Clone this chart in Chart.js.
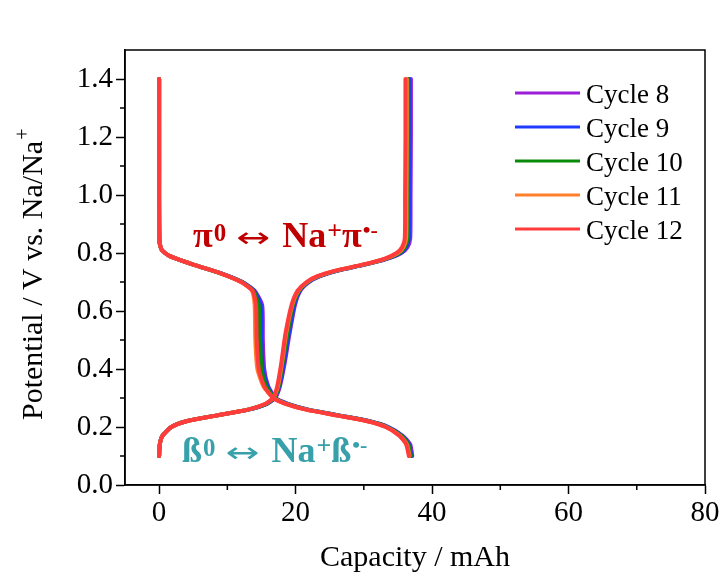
<!DOCTYPE html>
<html>
<head>
<meta charset="utf-8">
<script src="https://cdn.jsdelivr.net/npm/chart.js@4/dist/chart.umd.min.js"></script>
<style>
  html, body { margin: 0; padding: 0; background: #fff; }
  #wrap { width: 723px; height: 574px; position: relative; }
</style>
</head>
<body>
<div id="wrap"><canvas id="gcd-chart"></canvas></div>
<script>
/* ── Data ─────────────────────────────────────────────────────────── */
var CYCLES = ["Cycle 8", "Cycle 9", "Cycle 10", "Cycle 11", "Cycle 12"];

// discharge branch: potential (V) and capacity (mAh) per cycle
var DIS_V = [1.40, 1.10, 0.84, 0.81, 0.79, 0.76, 0.73, 0.70, 0.67, 0.62, 0.50, 0.40, 0.34, 0.30, 0.28, 0.26, 0.24, 0.22, 0.20, 0.17, 0.14, 0.10];
var DIS_Q8  = [0, 0, 0.05, 0.4, 1.5, 5.0, 9.1, 12.2, 14.0, 15.1, 15.2, 15.4, 16.0, 17.1, 18.9, 21.9, 26.4, 30.9, 33.6, 35.7, 36.8, 37.1];
var DIS_Q9  = [0, 0, 0.05, 0.4, 1.5, 5.0, 9.1, 12.2, 13.9, 14.9, 15.0, 15.2, 15.9, 17.0, 18.8, 21.8, 26.3, 30.8, 33.5, 35.6, 36.6, 37.0];
var DIS_Q10 = [0, 0, 0.05, 0.4, 1.5, 5.0, 9.0, 12.1, 13.8, 14.6, 14.8, 15.0, 15.7, 16.9, 18.7, 21.7, 26.2, 30.7, 33.4, 35.5, 36.5, 36.9];
var DIS_Q11 = [0, 0, 0.05, 0.4, 1.5, 5.0, 9.0, 12.0, 13.6, 14.0, 14.1, 14.4, 15.3, 16.8, 18.6, 21.6, 26.1, 30.6, 33.3, 35.3, 36.3, 36.7];
var DIS_Q12 = [0, 0, 0.05, 0.4, 1.5, 5.0, 9.0, 12.0, 13.7, 14.2, 14.3, 14.6, 15.4, 16.7, 18.5, 21.5, 26.0, 30.5, 33.2, 35.2, 36.2, 36.6];

// charge branch
var CHG_V = [0.10, 0.14, 0.17, 0.20, 0.22, 0.24, 0.26, 0.28, 0.30, 0.34, 0.42, 0.52, 0.62, 0.67, 0.70, 0.72, 0.74, 0.76, 0.78, 0.80, 0.82, 0.85, 1.00, 1.20, 1.40];
var CHG_Q8  = [0, 0.1, 0.5, 1.8, 4.0, 8.5, 13.1, 15.8, 17.0, 17.7, 18.4, 19.1, 19.9, 20.7, 22.0, 23.6, 26.4, 30.2, 33.4, 35.5, 36.4, 36.8, 36.85, 36.9, 36.9];
var CHG_Q9  = [0, 0.1, 0.5, 1.8, 4.0, 8.5, 13.1, 15.8, 16.9, 17.6, 18.3, 19.0, 19.8, 20.6, 21.9, 23.5, 26.3, 30.1, 33.3, 35.4, 36.2, 36.6, 36.65, 36.7, 36.7];
var CHG_Q10 = [0, 0.1, 0.5, 1.8, 4.0, 8.5, 13.0, 15.7, 16.8, 17.5, 18.1, 18.8, 19.6, 20.5, 21.8, 23.4, 26.2, 30.0, 33.2, 35.2, 36.0, 36.4, 36.45, 36.5, 36.5];
var CHG_Q11 = [0, 0.1, 0.5, 1.8, 4.0, 8.5, 13.0, 15.6, 16.7, 17.4, 18.0, 18.6, 19.5, 20.4, 21.7, 23.3, 26.1, 29.9, 33.1, 35.0, 35.8, 36.2, 36.25, 36.3, 36.3];
var CHG_Q12 = [0, 0.1, 0.5, 1.8, 4.0, 8.5, 13.0, 15.6, 16.7, 17.3, 17.9, 18.5, 19.4, 20.3, 21.6, 23.2, 26.0, 29.8, 33.0, 34.8, 35.6, 36.0, 36.05, 36.1, 36.1];

var X_TICKS = [0, 20, 40, 60, 80];
var Y_TICKS = [0.0, 0.2, 0.4, 0.6, 0.8, 1.0, 1.2, 1.4];

(function () {
  "use strict";

  var COLORS = ["#9b1ed8", "#1e3cff", "#0a8a0a", "#ff7f2a", "#ff3b3b"];
  var SERIF = "'Liberation Serif', 'Times New Roman', serif";

  /* ── Helpers ───────────────────────────────────────────────────── */
  function pts(qs, vs) {
    return qs.map(function (q, i) { return { x: q, y: vs[i] }; });
  }

  function cycleData(dq, cq) {
    // discharge, a gap, then charge
    return pts(dq, DIS_V).concat([{ x: dq[dq.length - 1], y: null }], pts(cq, CHG_V));
  }

  // draws a row of text pieces; r.w stretches a piece to a given width
  function drawRuns(ctx, x, y, runs) {
    runs.forEach(function (r) {
      ctx.font = r.font;
      ctx.fillStyle = r.color;
      var tw = ctx.measureText(r.text).width;
      var sx = r.w ? r.w / tw : 1;
      ctx.save();
      ctx.translate(x, y - (r.rise || 0));
      ctx.scale(sx, 1);
      ctx.fillText(r.text, 0, 0);
      ctx.restore();
      x += tw * sx + (r.gap || 0);
    });
  }

  function reaction(sym, color) {
    var big = "bold 36px " + SERIF;
    return [
      { text: sym, font: big, color: color, gap: 1 },
      { text: "0", font: "bold 25px " + SERIF, color: color, rise: 6, gap: 10 },
      { text: "\u2194", font: "28px 'DejaVu Sans'", color: color, w: 34, gap: 12 },
      { text: "Na", font: big, color: color, gap: 1 },
      { text: "+", font: "bold 26px " + SERIF, color: color, rise: 8 },
      { text: sym, font: big, color: color, gap: 1 },
      { text: "\u2022-", font: "bold 22px " + SERIF, color: color, rise: 10 }
    ];
  }

  var discharge = [DIS_Q8, DIS_Q9, DIS_Q10, DIS_Q11, DIS_Q12];
  var charge = [CHG_Q8, CHG_Q9, CHG_Q10, CHG_Q11, CHG_Q12];

  var datasets = CYCLES.map(function (name, i) {
    return {
      label: name,
      data: cycleData(discharge[i], charge[i]),
      borderColor: COLORS[i],
      backgroundColor: COLORS[i],
      borderWidth: 4,
      pointRadius: 0,
      tension: 0.2,
      spanGaps: false,
      borderJoinStyle: "round",
      borderCapStyle: "round",
      order: CYCLES.length - 1 - i   // cycle 12 ends up on top
    };
  });

  /* ── Decorations: frame, minor ticks, legend, labels ───────────── */
  var decor = {
    id: "decor",
    afterDraw: function (chart) {
      var ctx = chart.ctx;
      var a = chart.chartArea;
      var xs = chart.scales.x, ys = chart.scales.y;

      ctx.save();
      ctx.strokeStyle = "#000";
      ctx.lineWidth = 1.5;
      ctx.strokeRect(a.left, a.top, a.right - a.left, a.bottom - a.top);

      // minor ticks
      ctx.beginPath();
      [10, 30, 50, 70].forEach(function (v) {
        var px = xs.getPixelForValue(v);
        ctx.moveTo(px, a.bottom);
        ctx.lineTo(px, a.bottom + 5);
      });
      [0.1, 0.3, 0.5, 0.7, 0.9, 1.1, 1.3].forEach(function (v) {
        var py = ys.getPixelForValue(v);
        ctx.moveTo(a.left, py);
        ctx.lineTo(a.left - 5, py);
      });
      ctx.stroke();

      // legend
      ctx.textAlign = "left";
      ctx.textBaseline = "alphabetic";
      CYCLES.forEach(function (name, i) {
        var ly = 93 + i * 34;
        ctx.strokeStyle = COLORS[i];
        ctx.lineWidth = 3;
        ctx.beginPath();
        ctx.moveTo(515, ly);
        ctx.lineTo(580, ly);
        ctx.stroke();
        ctx.fillStyle = "#000";
        ctx.font = "27px " + SERIF;
        ctx.fillText(name, 586, ly + 10);
      });

      // reaction labels
      drawRuns(ctx, 193, 247, reaction("\u03c0", "#c00000"));
      drawRuns(ctx, 182, 462, reaction("\u00df", "#37a0aa"));

      // axis titles
      ctx.fillStyle = "#000";
      ctx.font = "30px " + SERIF;
      ctx.textAlign = "center";
      ctx.fillText("Capacity / mAh", (a.left + a.right) / 2, 566);

      ctx.translate(42, 420);
      ctx.rotate(-Math.PI / 2);
      ctx.textAlign = "left";
      var main = "Potential / V vs. Na/Na";
      ctx.fillText(main, 0, 0);
      var w = ctx.measureText(main).width;
      ctx.font = "20px " + SERIF;
      ctx.fillText("+", w + 1, -13);
      ctx.restore();
    }
  };

  /* ── Chart ─────────────────────────────────────────────────────── */
  var tickFont = { family: "'Liberation Serif', serif", size: 29 };

  new Chart(document.getElementById("gcd-chart").getContext("2d"), {
    type: "line",
    data: { datasets: datasets },
    options: {
      responsive: true,
      maintainAspectRatio: false,
      animation: false,
      layout: { padding: { left: 0, top: 50, right: 18, bottom: 0 } },
      plugins: {
        legend: { display: false },
        tooltip: { enabled: false }
      },
      scales: {
        x: {
          type: "linear",
          min: -5,
          max: 80,
          afterFit: function (s) { s.height = 89; },
          afterBuildTicks: function (s) {
            s.ticks = X_TICKS.map(function (v) { return { value: v }; });
          },
          ticks: { color: "#000", font: tickFont, padding: 2 },
          grid: { drawOnChartArea: false, tickLength: 9, tickWidth: 1.5, tickColor: "#000" },
          border: { color: "#000", width: 1.5 }
        },
        y: {
          type: "linear",
          min: 0,
          max: 1.5,
          afterFit: function (s) { s.width = 125; },
          afterBuildTicks: function (s) {
            s.ticks = Y_TICKS.map(function (v) { return { value: v }; });
          },
          ticks: {
            color: "#000",
            font: tickFont,
            padding: 3,
            callback: function (v) { return Number(v).toFixed(1); }
          },
          grid: { drawOnChartArea: false, tickLength: 9, tickWidth: 1.5, tickColor: "#000" },
          border: { color: "#000", width: 1.5 }
        }
      }
    },
    plugins: [decor]
  });
})();
</script>
</body>
</html>
